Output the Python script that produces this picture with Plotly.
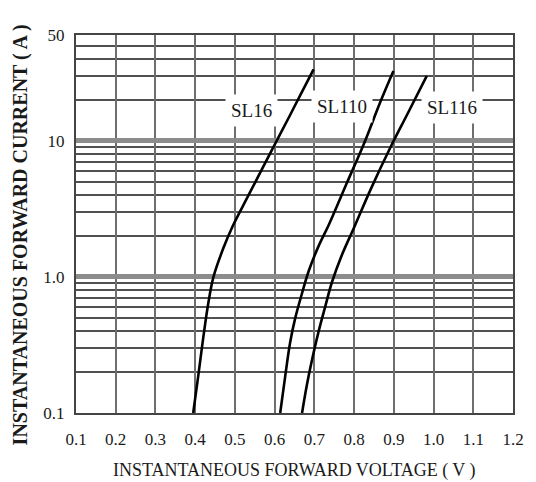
import math
import plotly.graph_objects as go

# Forward characteristics (V, A)
sl16_v = [0.395, 0.408, 0.421, 0.433, 0.446, 0.471, 0.494, 0.534, 0.605, 0.639, 0.662, 0.698]
sl16_i = [0.10, 0.19, 0.37, 0.64, 1.00, 1.63, 2.35, 3.97, 10.0, 15.5, 21.0, 33.5]

sl110_v = [0.614, 0.627, 0.639, 0.652, 0.669, 0.686, 0.710, 0.737, 0.782, 0.824, 0.866, 0.899]
sl110_i = [0.10, 0.19, 0.33, 0.50, 0.76, 1.11, 1.67, 2.44, 4.92, 9.4, 19.3, 32.6]

sl116_v = [0.669, 0.681, 0.694, 0.710, 0.727, 0.744, 0.768, 0.800, 0.842, 0.891, 0.933, 0.983]
sl116_i = [0.10, 0.16, 0.245, 0.39, 0.60, 0.91, 1.42, 2.31, 4.42, 8.9, 15.5, 30.0]

series_names = ["SL16", "SL110", "SL116"]
label_x = [0.543, 0.770, 1.047]
label_y = [16.6, 18.0, 17.5]

x_ticks = [0.1, 0.2, 0.3, 0.4, 0.5, 0.6, 0.7, 0.8, 0.9, 1.0, 1.1, 1.2]
x_tick_text = ["0.1", "0.2", "0.3", "0.4", "0.5", "0.6", "0.7", "0.8", "0.9", "1.0", "1.1", "1.2"]
y_ticks = [0.1, 1, 10, 60]
y_tick_text = ["0.1", "1.0", "10", "50"]
y_minor = [0.2, 0.3, 0.4, 0.5, 0.6, 0.7, 0.8, 0.9,
           2, 3, 4, 5, 6, 7, 8, 9,
           20, 30, 40, 50]

SERIF = "Liberation Serif, Times New Roman, serif"

fig = go.Figure()
for v, i in [(sl16_v, sl16_i), (sl110_v, sl110_i), (sl116_v, sl116_i)]:
    fig.add_trace(go.Scatter(x=v, y=i, mode="lines",
                             line=dict(color="black", width=2.6, shape="spline", smoothing=1.0),
                             showlegend=False, hoverinfo="skip"))

for name, lx, ly in zip(series_names, label_x, label_y):
    fig.add_annotation(x=lx, y=math.log10(ly), yref="y", xref="x", text=name, showarrow=False,
                       font=dict(family=SERIF, size=19, color="#1a1a1a"),
                       bgcolor="white", borderpad=5)

fig.add_annotation(xref="paper", yref="paper", x=0.5, y=-0.152, yanchor="middle",
                   text="INSTANTANEOUS FORWARD VOLTAGE ( V )", showarrow=False,
                   font=dict(family=SERIF, size=18, color="#1a1a1a"))
fig.add_annotation(xref="paper", yref="paper", x=-0.128, y=0.47, xanchor="center",
                   text="<b>INSTANTANEOUS FORWARD CURRENT ( A )</b>", showarrow=False,
                   textangle=-90,
                   font=dict(family=SERIF, size=20, color="#1a1a1a"))

fig.update_layout(
    width=528, height=474,
    margin=dict(l=68, r=23, t=27, b=69),
    paper_bgcolor="white", plot_bgcolor="white",
    xaxis=dict(range=[0.1, 1.2], tickvals=x_ticks, ticktext=x_tick_text,
               showgrid=True, gridcolor="#6e6e6e", gridwidth=2,
               showline=True, mirror=True, linecolor="#444", linewidth=2,
               ticks="", ticklabelstandoff=10, zeroline=False,
               tickfont=dict(family=SERIF, size=17, color="#1a1a1a")),
    yaxis=dict(type="log", range=[-1, 1.7782], tickvals=y_ticks, ticktext=y_tick_text,
               showgrid=True, gridcolor="#8c8c8c", gridwidth=5,
               minor=dict(tickvals=y_minor, showgrid=True, gridcolor="#505050", gridwidth=2, ticks=""),
               showline=True, mirror=True, linecolor="#444", linewidth=2,
               ticks="", ticklabelstandoff=6, zeroline=False,
               tickfont=dict(family=SERIF, size=17, color="#1a1a1a")),
)

fig.write_html("out.html")
